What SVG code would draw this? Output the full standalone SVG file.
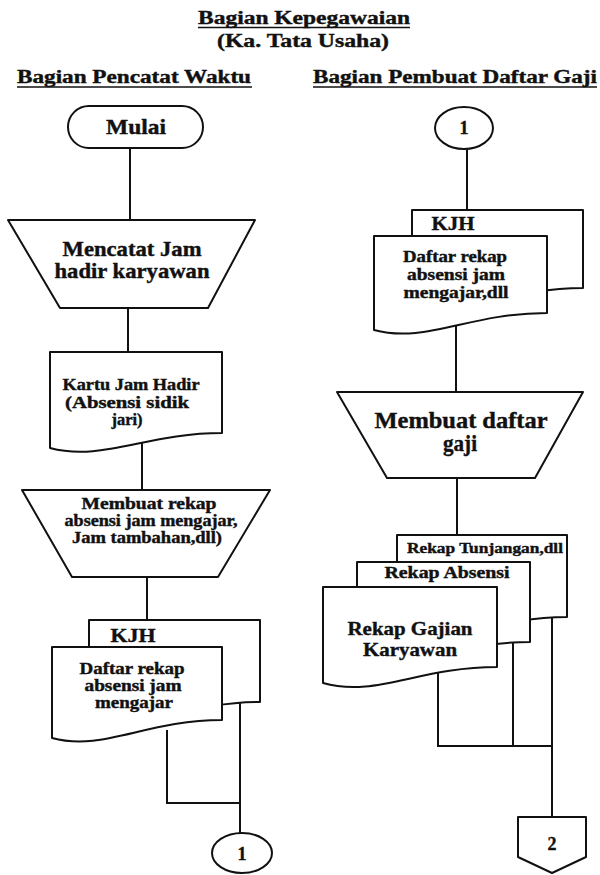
<svg xmlns="http://www.w3.org/2000/svg" width="600" height="875" viewBox="0 0 600 875">
<style>
.t{font-family:"Liberation Serif","Times New Roman",serif;font-weight:bold;fill:#111;stroke:#111;stroke-width:0.4;text-anchor:middle}
.s{fill:#fff;stroke:#111;stroke-width:2;stroke-linejoin:round}
.c{fill:none;stroke:#111;stroke-width:2}
.u{stroke:#111;stroke-width:1.6}
</style>
<rect width="600" height="875" fill="#fff"/>
<g id="header">
<text class="t" x="304" y="23.5" font-size="18" textLength="212" lengthAdjust="spacingAndGlyphs">Bagian Kepegawaian</text>
<line class="u" x1="198" y1="27.5" x2="410" y2="27.5"/>
<text class="t" x="303" y="46.5" font-size="18" textLength="172" lengthAdjust="spacingAndGlyphs">(Ka. Tata Usaha)</text>
<text class="t" x="134" y="83" font-size="18" textLength="234" lengthAdjust="spacingAndGlyphs">Bagian Pencatat Waktu</text>
<line class="u" x1="17" y1="87" x2="252" y2="87"/>
<text class="t" x="455" y="83" font-size="18" textLength="284" lengthAdjust="spacingAndGlyphs">Bagian Pembuat Daftar Gaji</text>
<line class="u" x1="313" y1="87" x2="597" y2="87"/>
</g>
<g id="connectors">
<path class="c" d="M130,148 V220"/>
<path class="c" d="M128,308 V352"/>
<path class="c" d="M142,440 V490"/>
<path class="c" d="M147,577 V620"/>
<path class="c" d="M240,702 V833"/>
<path class="c" d="M167,730 V803 H240"/>
<path class="c" d="M467,149 V210"/>
<path class="c" d="M456,320 V392"/>
<path class="c" d="M457,478 V535"/>
<path class="c" d="M438,670 V746 H552"/>
<path class="c" d="M513,640 V746"/>
<path class="c" d="M552,615 V817"/>
</g>
<g id="mulai">
<rect class="s" x="68" y="106" width="135" height="42" rx="21"/>
<text class="t" x="136" y="134" font-size="21" textLength="60" lengthAdjust="spacingAndGlyphs">Mulai</text>
</g>
<g id="mencatat">
<polygon class="s" points="8,220 255,220 208,308 60,308"/>
<text class="t" x="132" y="256" font-size="21" textLength="139" lengthAdjust="spacingAndGlyphs">Mencatat Jam</text>
<text class="t" x="132" y="278" font-size="21" textLength="155" lengthAdjust="spacingAndGlyphs">hadir karyawan</text>
</g>
<g id="kartu">
<path class="s" d="M50,352 H222 V433 C147,433 102,462 50,448 Z"/>
<text class="t" x="131" y="390" font-size="16" textLength="137" lengthAdjust="spacingAndGlyphs">Kartu Jam Hadir</text>
<text class="t" x="127" y="408" font-size="16" textLength="124" lengthAdjust="spacingAndGlyphs">(Absensi sidik</text>
<text class="t" x="127" y="425" font-size="16" textLength="31" lengthAdjust="spacingAndGlyphs">jari)</text>
</g>
<g id="rekap">
<polygon class="s" points="22,490 270,490 218,577 72,577"/>
<text class="t" x="149" y="509" font-size="16" textLength="135" lengthAdjust="spacingAndGlyphs">Membuat rekap</text>
<text class="t" x="151" y="526" font-size="16" textLength="173" lengthAdjust="spacingAndGlyphs">absensi jam mengajar,</text>
<text class="t" x="147" y="543" font-size="16" textLength="150" lengthAdjust="spacingAndGlyphs">Jam tambahan,dll)</text>
</g>
<g id="kjh-left">
<path class="s" d="M89,620 H260 V702 C184,702 140,734 89,720 Z"/>
<text class="t" x="133" y="642" font-size="19" textLength="45" lengthAdjust="spacingAndGlyphs">KJH</text>
<path class="s" d="M52,647 H222 V720 C146,720 103,752 52,738 Z"/>
<text class="t" x="132" y="674" font-size="16" textLength="105" lengthAdjust="spacingAndGlyphs">Daftar rekap</text>
<text class="t" x="133" y="691" font-size="16" textLength="97" lengthAdjust="spacingAndGlyphs">absensi jam</text>
<text class="t" x="134" y="708" font-size="16" textLength="78" lengthAdjust="spacingAndGlyphs">mengajar</text>
</g>
<g id="conn1-left">
<ellipse class="s" cx="242" cy="853" rx="30" ry="20"/>
<text class="t" x="242" y="860" font-size="18">1</text>
</g>
<g id="conn1-right">
<ellipse class="s" cx="464" cy="128" rx="29" ry="21"/>
<text class="t" x="464" y="134" font-size="18">1</text>
</g>
<g id="kjh-right">
<path class="s" d="M412,210 H583 V288 C506,288 463,320 412,306 Z"/>
<text class="t" x="453" y="230" font-size="19" textLength="43" lengthAdjust="spacingAndGlyphs">KJH</text>
<path class="s" d="M374,236 H547 V313 C469,313 426,344 374,330 Z"/>
<text class="t" x="455" y="262" font-size="16" textLength="104" lengthAdjust="spacingAndGlyphs">Daftar rekap</text>
<text class="t" x="456" y="280" font-size="16" textLength="98" lengthAdjust="spacingAndGlyphs">absensi jam</text>
<text class="t" x="456" y="298" font-size="16" textLength="105" lengthAdjust="spacingAndGlyphs">mengajar,dll</text>
</g>
<g id="daftar-gaji">
<polygon class="s" points="337,392 583,392 535,478 387,478"/>
<text class="t" x="461" y="428" font-size="23" textLength="173" lengthAdjust="spacingAndGlyphs">Membuat daftar</text>
<text class="t" x="460" y="451" font-size="23" textLength="34" lengthAdjust="spacingAndGlyphs">gaji</text>
</g>
<g id="rekap-docs">
<path class="s" d="M397,535 H567 V617 C491,617 448,649 397,635 Z"/>
<text class="t" x="485" y="553" font-size="15" textLength="156" lengthAdjust="spacingAndGlyphs">Rekap Tunjangan,dll</text>
<path class="s" d="M357,562 H530 V642 C452,642 409,674 357,660 Z"/>
<text class="t" x="447" y="578" font-size="16" textLength="125" lengthAdjust="spacingAndGlyphs">Rekap Absensi</text>
<path class="s" d="M323,587 H497 V667 C419,667 375,698 323,683 Z"/>
<text class="t" x="410" y="635" font-size="19" textLength="125" lengthAdjust="spacingAndGlyphs">Rekap Gajian</text>
<text class="t" x="410" y="656" font-size="19" textLength="94" lengthAdjust="spacingAndGlyphs">Karyawan</text>
</g>
<g id="offpage2">
<polygon class="s" points="518,817 586,817 586,857 552,873 518,857"/>
<text class="t" x="552" y="850" font-size="18">2</text>
</g>
</svg>
